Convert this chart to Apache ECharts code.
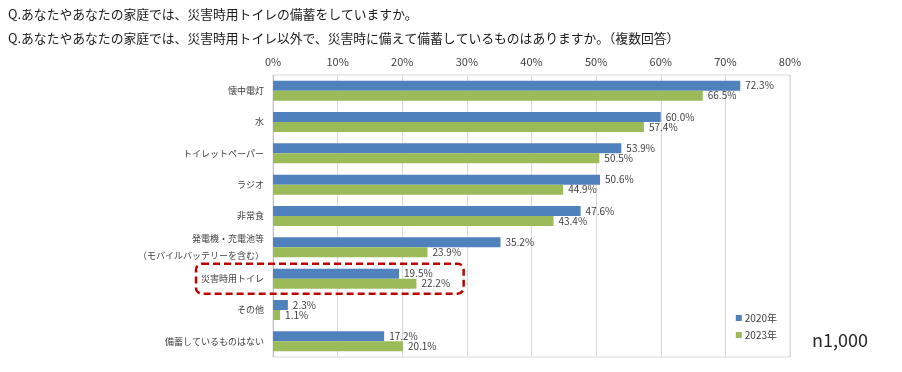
<!DOCTYPE html>
<html><head><meta charset="utf-8">
<script src="https://cdn.jsdelivr.net/npm/echarts@6/dist/echarts.min.js"></script>
<style>html,body{margin:0;padding:0;background:#fff}#c{width:902px;height:372px}</style>
</head><body><div id="c"></div>
<script>
const titles = ["Q.あなたやあなたの家庭では、災害時用トイレの備蓄をしていますか。",
  "Q.あなたやあなたの家庭では、災害時用トイレ以外で、災害時に備えて備蓄しているものはありますか。（複数回答）"];
const categories = ["懐中電灯","水","トイレットペーパー","ラジオ","非常食","発電機・充電池等\n（モバイルバッテリーを含む）","災害時用トイレ","その他","備蓄しているものはない"];
const series2020 = [72.3,60.0,53.9,50.6,47.6,35.2,19.5,2.3,17.2];
const series2023 = [66.5,57.4,50.5,44.9,43.4,23.9,22.2,1.1,20.1];
const seriesNames = ["2020年","2023年"];
const xTicks = [0,10,20,30,40,50,60,70,80];
const highlightCategory = "災害時用トイレ";
const sampleNote = "n1,000";

const FONT = '"Noto Sans CJK JP", "Noto Sans", sans-serif';
const chart = echarts.init(document.getElementById('c'), null, {renderer:'canvas'});
const lbl = {show:true, position:'right', distance:5, fontSize:10, color:'#404040', fontFamily:FONT,
  formatter:p=>p.value.toFixed(1)+'%'};
const texts = [
  {type:'text', left:8, top:8, style:{text:titles[0], font:'12.8px '+FONT, fill:'#1a1a1a'}},
  {type:'text', left:8, top:32, style:{text:titles[1], font:'12.8px '+FONT, fill:'#1a1a1a'}},
  {type:'text', left:812, top:331, style:{text:sampleNote, font:'18px '+FONT, fill:'#262626'}}
];
chart.setOption({
  animation:false,
  textStyle:{fontFamily:FONT},
  grid:{left:273, right:112, top:75, bottom:15, show:true, borderColor:'#D9D9D9', borderWidth:1},
  xAxis:{type:'value', position:'top', min:xTicks[0], max:xTicks[xTicks.length-1], interval:10,
    axisLabel:{formatter:'{value}%', fontSize:11, color:'#404040', margin:8, fontFamily:FONT},
    axisLine:{show:false}, axisTick:{show:false},
    splitLine:{lineStyle:{color:'#D9D9D9'}}},
  yAxis:{type:'category', data:categories, inverse:true,
    axisLine:{show:true, lineStyle:{color:'#BFBFBF'}}, axisTick:{show:false},
    axisLabel:{fontSize:9, color:'#404040', margin:9, lineHeight:17, fontFamily:FONT}},
  legend:{orient:'vertical', right:120, top:308, itemWidth:6, itemHeight:6, itemGap:7,
    icon:'rect', textStyle:{fontSize:10, color:'#404040', fontFamily:FONT, padding:[0,0,0,-2]}},
  series:[
    {name:seriesNames[0], type:'bar', data:series2020, barGap:'0%', barCategoryGap:'36%',
     itemStyle:{color:'#4F81BD'}, label:lbl},
    {name:seriesNames[1], type:'bar', data:series2023, barGap:'0%', barCategoryGap:'36%',
     itemStyle:{color:'#9BBB59'}, label:lbl}
  ],
  graphic:texts
});
// highlight box around the target category
const idx = categories.indexOf(highlightCategory);
const yc = chart.convertToPixel({yAxisIndex:0}, idx);
const x0 = chart.convertToPixel({xAxisIndex:0}, 0);
const x1 = chart.convertToPixel({xAxisIndex:0}, 29.5);
chart.setOption({graphic:texts.concat([
  {type:'rect', shape:{x:x0-77, y:yc-15, width:x1-x0+77, height:30, r:6}, z:100,
   style:{fill:'none', stroke:'#C00000', lineWidth:2.5, lineDash:[7,4]}}
])});
</script></body></html>
